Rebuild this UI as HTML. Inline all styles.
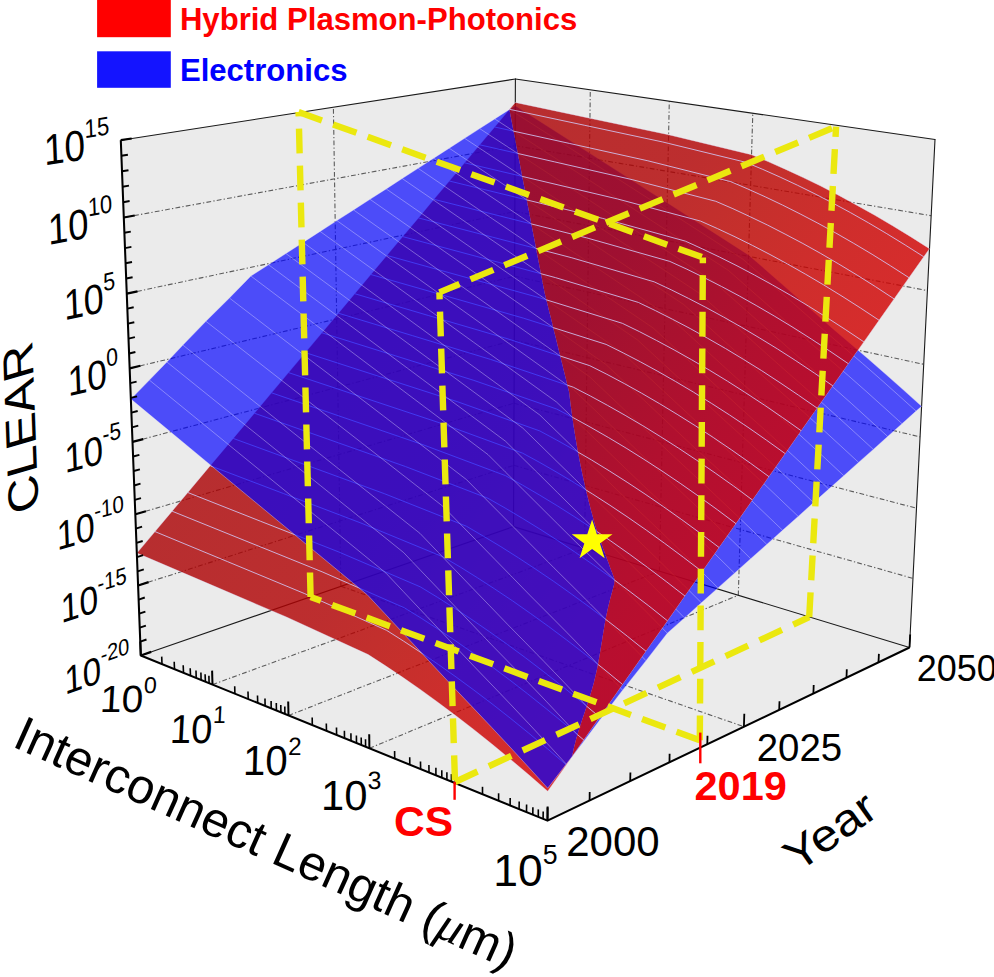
<!DOCTYPE html>
<html><head><meta charset="utf-8"><title>CLEAR</title>
<style>html,body{margin:0;padding:0;background:#fff}svg{display:block}</style></head>
<body>
<svg width="994" height="977" viewBox="0 0 994 977" font-family='"Liberation Sans", Arial, Helvetica, sans-serif'>
<rect width="994" height="977" fill="#fff"/>
<defs>
<clipPath id="rf"><polygon points="509.4,109.4 509.8,111.5 510.2,113.6 510.6,115.7 511.0,117.8 511.4,119.9 511.8,122.0 512.2,124.1 512.6,126.2 513.0,128.3 513.4,130.5 513.9,132.6 514.3,134.7 514.7,136.8 515.1,139.0 515.5,141.1 515.9,143.3 516.3,145.4 516.7,147.6 517.1,149.8 517.6,151.9 518.0,154.1 518.4,156.3 518.8,158.5 519.2,160.6 519.7,162.8 520.1,165.0 520.5,167.2 520.9,169.4 521.4,171.7 521.8,173.9 522.2,176.1 522.6,178.3 523.1,180.6 523.5,182.8 523.9,185.0 524.4,187.3 524.8,189.5 525.2,191.8 525.7,194.1 526.1,196.3 526.5,198.6 527.0,200.9 527.4,203.2 527.8,205.4 528.3,207.7 528.7,210.0 529.2,212.3 529.6,214.7 530.0,217.0 530.5,219.3 530.9,221.6 531.4,223.9 531.8,226.3 532.3,228.6 532.7,231.0 533.2,233.3 533.6,235.7 534.1,238.0 534.6,240.4 535.0,242.8 535.5,245.2 535.9,247.6 536.4,249.9 536.8,252.3 537.3,254.7 537.8,257.2 538.2,259.6 538.7,262.0 539.2,264.4 539.6,266.8 540.1,269.3 540.6,271.7 541.0,274.2 541.5,276.6 542.0,279.1 542.4,281.6 542.9,284.0 543.4,286.5 543.9,289.0 544.4,291.5 544.9,293.9 545.5,296.3 546.1,298.7 546.7,301.2 547.3,303.6 547.9,306.0 548.5,308.5 549.1,310.9 549.7,313.4 550.4,315.8 551.0,318.3 551.6,320.8 552.2,323.3 552.8,325.7 553.4,328.2 554.0,330.7 554.6,333.2 555.3,335.7 555.9,338.3 556.5,340.8 557.1,343.3 557.7,345.8 558.4,348.4 559.0,350.9 559.6,353.5 560.3,356.0 560.9,358.6 561.5,361.2 562.2,363.7 562.8,366.3 563.4,368.9 564.1,371.5 564.7,374.1 565.4,376.7 566.0,379.3 566.6,381.9 567.3,384.5 567.9,387.2 568.6,389.8 569.2,392.5 569.6,395.8 570.0,399.2 570.4,402.5 570.8,405.9 571.3,409.2 571.7,412.6 572.2,415.9 572.7,419.3 573.1,422.6 573.6,426.0 574.2,429.3 574.7,432.7 575.2,436.0 575.8,439.4 576.4,442.7 576.9,446.0 577.5,449.4 578.1,452.7 578.8,456.0 579.4,459.4 580.1,462.7 580.7,466.0 581.4,469.3 582.1,472.7 582.8,476.0 583.5,479.3 584.3,482.6 585.0,485.9 585.8,489.2 586.6,492.5 587.4,495.8 588.2,499.1 589.0,502.4 589.9,505.7 590.7,509.0 591.6,512.3 592.5,515.6 593.4,518.9 594.3,522.2 595.2,525.4 596.2,528.6 597.3,531.7 598.4,534.8 599.5,538.0 600.6,541.1 601.7,544.2 602.8,547.4 603.9,550.5 605.1,553.6 606.2,556.8 607.4,559.9 608.6,563.0 609.7,566.2 610.9,569.4 612.1,572.5 613.3,575.7 614.5,578.9 614.2,584.2 612.1,592.0 610.0,599.8 608.1,607.4 606.6,614.5 605.2,621.3 604.1,628.0 603.0,634.5 602.0,641.0 600.9,647.5 599.8,654.2 598.6,661.0 597.3,668.1 595.6,675.5 593.7,683.5 591.2,692.1 588.3,701.5 585.0,711.5 581.6,721.6 578.4,731.4 575.8,740.5 573.7,748.9 572.0,756.7 583.8,740.0 599.8,717.2 622.7,684.6 646.1,651.3 667.6,620.9 685.0,596.1 702.2,571.7 719.2,547.6 736.0,523.7 752.6,500.1 769.0,476.7 785.3,453.7 801.3,430.8 817.2,408.2 832.9,385.9 848.5,363.8 863.9,341.9 879.1,320.3 894.1,298.9 909.0,277.7 923.8,256.8 929.5,248.7 911.0,236.9 892.6,225.7 874.4,215.0 856.3,204.9 838.5,195.2 820.8,186.1 803.2,177.5 785.8,169.4 768.6,161.8 751.6,154.7 668.6,134.7 589.9,118.2 515.3,102.4"/></clipPath>
<linearGradient id="rg" gradientUnits="userSpaceOnUse" x1="357.2" y1="284" x2="699.7" y2="556.1"><stop offset="0" stop-color="#ab0204"/><stop offset="0.415" stop-color="#b20203"/><stop offset="0.597" stop-color="#bc0400"/><stop offset="0.779" stop-color="#c80200"/><stop offset="1" stop-color="#d20000"/></linearGradient>
</defs>
<g id="bg"><polygon points="140.8,655.5 120.8,140.2 515.4,79.0 513.5,526.6" fill="#ebebeb"/><polygon points="513.5,526.6 515.4,79.0 935.0,139.5 909.5,647.5" fill="#ebebeb"/><polygon points="140.8,655.5 513.5,526.6 909.5,647.5 547.5,820.6" fill="#ebebeb"/><g stroke="#5c5c5c" stroke-width="1.1" stroke-dasharray="4.8 2.2 1.3 2.2" fill="none"><line x1="138.1" y1="585.5" x2="513.8" y2="465.3" /><line x1="513.8" y1="465.3" x2="913.0" y2="578.4" /><line x1="135.4" y1="514.3" x2="514.0" y2="403.2" /><line x1="514.0" y1="403.2" x2="916.5" y2="508.2" /><line x1="132.5" y1="441.9" x2="514.3" y2="340.2" /><line x1="514.3" y1="340.2" x2="920.1" y2="436.9" /><line x1="129.7" y1="368.4" x2="514.6" y2="276.3" /><line x1="514.6" y1="276.3" x2="923.7" y2="364.3" /><line x1="126.8" y1="293.6" x2="514.8" y2="211.5" /><line x1="514.8" y1="211.5" x2="927.4" y2="290.6" /><line x1="123.8" y1="217.5" x2="515.1" y2="145.7" /><line x1="515.1" y1="145.7" x2="931.1" y2="215.7" /><line x1="340.9" y1="586.3" x2="333.4" y2="107.2" /><line x1="584.6" y1="548.3" x2="590.3" y2="89.8" /><line x1="212.5" y1="684.6" x2="584.6" y2="548.3" /><line x1="659.4" y1="571.2" x2="669.3" y2="101.2" /><line x1="288.5" y1="715.5" x2="659.4" y2="571.2" /><line x1="738.3" y1="595.2" x2="752.8" y2="113.2" /><line x1="369.4" y1="748.3" x2="738.3" y2="595.2" /><line x1="340.9" y1="586.3" x2="743.9" y2="726.7" /></g><g stroke="#1a1a1a" stroke-width="1.1" fill="none" stroke-linecap="round"><line x1="120.8" y1="140.2" x2="515.4" y2="79.0" /><line x1="515.4" y1="79.0" x2="935.0" y2="139.5" /><line x1="513.5" y1="526.6" x2="515.4" y2="79.0" /><line x1="909.5" y1="647.5" x2="935.0" y2="139.5" /><line x1="140.8" y1="655.5" x2="513.5" y2="526.6" /><line x1="513.5" y1="526.6" x2="909.5" y2="647.5" /></g></g>
<g id="redS"><g><polygon points="136.9,553.1 155.0,531.6 172.1,511.2 187.8,492.5 210.2,465.7 233.2,438.4 254.4,413.2 271.5,392.8 288.5,372.6 305.3,352.6 321.9,332.8 338.4,313.2 354.7,293.7 370.8,274.5 386.8,255.4 402.7,236.6 418.4,217.9 433.9,199.3 449.3,181.0 464.6,162.8 479.7,144.8 494.7,127.0 509.5,109.3 515.3,102.4 589.9,118.2 668.6,134.7 751.6,154.7 768.6,161.8 785.8,169.4 803.2,177.5 820.8,186.1 838.5,195.2 856.3,204.9 874.4,215.0 892.6,225.7 911.0,236.9 929.5,248.7 923.8,256.8 909.0,277.7 894.1,298.9 879.1,320.3 863.9,341.9 848.5,363.8 832.9,385.9 817.2,408.2 801.3,430.8 785.3,453.7 769.0,476.7 752.6,500.1 736.0,523.7 719.2,547.6 702.2,571.7 685.0,596.1 667.6,620.9 646.1,651.3 622.7,684.6 599.8,717.2 583.8,740.0 566.3,764.9 547.7,791.2 528.8,774.8 510.1,759.0 491.6,743.8 473.4,729.2 455.3,715.3 437.5,702.0 419.9,689.2 402.4,677.1 385.2,665.6 368.2,654.6 286.4,617.0 209.4,584.1" fill="url(#rg)" fill-opacity="0.81" stroke="#e4e0ff" stroke-opacity="0.55" stroke-width="0.7"/><path d="M155.0,531.6 L227.7,561.7 L304.8,593.7 L386.7,630.4 L403.7,641.2 L421.0,652.6 L438.4,664.5 L456.1,677.0 L473.9,690.1 L492.0,703.8 L510.2,718.1 L528.7,733.1 L547.4,748.7 L566.3,764.9 M172.1,511.2 L244.9,540.6 L322.1,571.8 L404.2,607.7 L421.2,618.2 L438.5,629.4 L455.9,641.1 L473.6,653.4 L491.4,666.3 L509.5,679.8 L527.7,693.9 L546.2,708.7 L564.9,724.0 L583.8,740.0 M187.8,492.5 L260.7,521.3 L338.1,551.7 L420.2,586.8 L437.3,597.2 L454.5,608.2 L472.0,619.7 L489.6,631.8 L507.5,644.5 L525.5,657.8 L543.8,671.8 L562.3,686.3 L580.9,701.4 L599.8,717.2 M210.2,465.7 L283.4,493.5 L360.9,523.0 L443.1,556.9 L460.2,567.0 L477.5,577.8 L494.9,589.1 L512.6,600.9 L530.4,613.4 L548.5,626.4 L566.7,640.0 L585.2,654.3 L603.9,669.1 L622.7,684.6 M233.2,438.4 L306.5,465.2 L384.2,493.6 L466.6,526.3 L483.6,536.3 L500.9,546.7 L518.4,557.8 L536.0,569.4 L553.9,581.5 L571.9,594.3 L590.2,607.6 L608.6,621.6 L627.3,636.2 L646.1,651.3 M254.4,413.2 L327.8,439.1 L405.6,466.6 L488.0,498.3 L505.1,508.0 L522.4,518.3 L539.9,529.1 L557.5,540.4 L575.4,552.4 L593.4,564.9 L611.7,578.0 L630.1,591.7 L648.8,605.9 L667.6,620.9 M271.5,392.8 L345.0,418.0 L422.9,444.7 L505.4,475.6 L522.5,485.1 L539.8,495.2 L557.3,505.8 L574.9,517.0 L592.8,528.7 L610.8,541.0 L629.1,553.9 L647.5,567.4 L666.2,581.5 L685.0,596.1 M288.5,372.6 L362.1,397.1 L440.1,423.0 L522.7,453.2 L539.8,462.5 L557.0,472.4 L574.5,482.8 L592.2,493.8 L610.0,505.3 L628.1,517.4 L646.3,530.1 L664.7,543.4 L683.4,557.3 L702.2,571.7 M305.3,352.6 L379.0,376.4 L457.1,401.6 L539.7,430.9 L556.8,440.1 L574.1,449.8 L591.6,460.0 L609.2,470.8 L627.1,482.2 L645.1,494.1 L663.3,506.6 L681.8,519.7 L700.4,533.3 L719.2,547.6 M321.9,332.8 L395.7,355.9 L473.9,380.4 L556.6,409.0 L573.7,417.9 L591.0,427.5 L608.4,437.5 L626.1,448.1 L643.9,459.3 L662.0,471.0 L680.2,483.3 L698.6,496.2 L717.2,509.6 L736.0,523.7 M338.4,313.2 L412.3,335.6 L490.5,359.4 L573.3,387.2 L590.4,396.0 L607.6,405.4 L625.1,415.3 L642.8,425.7 L660.6,436.7 L678.6,448.2 L696.8,460.3 L715.2,473.0 L733.8,486.2 L752.6,500.1 M354.7,293.7 L428.7,315.6 L507.0,338.6 L589.8,365.7 L606.9,374.3 L624.2,383.5 L641.6,393.2 L659.3,403.5 L677.1,414.3 L695.1,425.6 L713.3,437.5 L731.7,450.0 L750.3,463.1 L769.0,476.7 M370.8,274.5 L444.9,295.7 L523.3,318.1 L606.1,344.4 L623.2,352.9 L640.5,361.9 L657.9,371.4 L675.6,381.5 L693.4,392.1 L711.4,403.3 L729.6,415.0 L748.0,427.3 L766.5,440.2 L785.3,453.7 M386.8,255.4 L461.0,276.0 L539.4,297.7 L622.3,323.3 L639.4,331.6 L656.6,340.5 L674.1,349.9 L691.7,359.8 L709.5,370.2 L727.5,381.2 L745.7,392.8 L764.1,404.9 L782.6,417.6 L801.3,430.8 M402.7,236.6 L476.9,256.5 L555.4,277.6 L638.3,302.4 L655.4,310.6 L672.6,319.3 L690.1,328.5 L707.7,338.3 L725.5,348.5 L743.5,359.4 L761.7,370.7 L780.0,382.7 L798.5,395.2 L817.2,408.2 M418.4,217.9 L492.7,237.2 L571.2,257.6 L654.1,281.8 L671.2,289.8 L688.5,298.4 L705.9,307.4 L723.5,317.0 L741.3,327.1 L759.3,337.8 L777.4,348.9 L795.8,360.7 L814.3,373.0 L832.9,385.9 M433.9,199.3 L508.3,218.1 L586.8,237.9 L669.8,261.4 L686.9,269.2 L704.1,277.6 L721.6,286.5 L739.2,295.9 L756.9,305.9 L774.9,316.4 L793.0,327.4 L811.3,339.0 L829.8,351.1 L848.5,363.8 M449.3,181.0 L523.8,199.2 L602.3,218.3 L685.3,241.1 L702.4,248.9 L719.6,257.1 L737.0,265.8 L754.6,275.1 L772.4,284.9 L790.4,295.2 L808.5,306.1 L826.8,317.5 L845.2,329.4 L863.9,341.9 M464.6,162.8 L539.1,180.4 L617.7,199.0 L700.6,221.1 L717.7,228.7 L735.0,236.8 L752.4,245.4 L770.0,254.5 L787.7,264.1 L805.7,274.3 L823.8,285.0 L842.0,296.2 L860.5,308.0 L879.1,320.3 M479.7,144.8 L554.3,161.8 L632.9,179.8 L715.8,201.3 L732.9,208.7 L750.1,216.7 L767.6,225.1 L785.1,234.1 L802.9,243.5 L820.8,253.5 L838.9,264.1 L857.1,275.1 L875.5,286.7 L894.1,298.9 M494.7,127.0 L569.3,143.4 L647.9,160.8 L730.9,181.7 L747.9,189.0 L765.2,196.8 L782.6,205.1 L800.1,213.9 L817.9,223.2 L835.8,233.0 L853.8,243.4 L872.1,254.3 L890.5,265.8 L909.0,277.7 M509.5,109.3 L584.2,125.2 L662.8,142.0 L745.8,162.3 L762.8,169.4 L780.1,177.1 L797.4,185.2 L815.0,193.9 L832.7,203.0 L850.6,212.7 L868.6,222.9 L886.8,233.7 L905.2,245.0 L923.8,256.8" stroke="#d2d0ff" stroke-opacity="0.8" stroke-width="1.0" fill="none" stroke-linejoin="round"/></g></g>
<g id="blueS"><g><polygon points="130.9,399.1 149.4,380.1 166.9,362.0 182.9,345.1 205.9,321.3 229.4,298.0 250.9,276.0 268.5,264.7 285.9,253.5 303.1,242.4 320.1,231.4 336.9,220.6 353.5,209.9 370.0,199.3 386.2,188.9 402.2,178.5 418.1,168.3 433.7,158.2 449.2,148.2 464.6,138.3 479.7,128.6 494.7,118.9 509.5,109.4 515.3,105.7 589.5,153.1 667.2,202.8 748.5,254.9 765.2,269.4 781.9,284.1 798.9,298.9 815.9,313.8 833.1,328.9 850.5,343.7 868.1,358.8 885.8,374.3 903.6,390.1 921.6,406.3 916.1,411.1 902.0,423.7 887.7,436.5 873.3,449.4 858.6,462.4 843.8,475.7 828.8,489.1 813.6,502.6 798.2,516.4 782.6,530.3 766.8,544.4 750.7,558.7 734.5,573.2 718.0,587.9 701.4,602.8 684.5,617.9 667.3,633.2 646.0,660.7 622.6,690.2 599.8,720.1 583.7,741.4 566.3,764.1 547.7,788.2 528.9,767.5 510.2,747.2 491.7,727.4 473.4,708.1 455.3,689.1 437.3,669.9 419.6,650.8 402.0,632.0 384.7,613.4 367.4,594.9 284.4,526.2 205.6,461.0" fill="#0000ff" fill-opacity="0.68" stroke="#e4e0ff" stroke-opacity="0.55" stroke-width="0.7"/><path d="M149.4,380.1 L224.2,441.1 L303.0,505.4 L386.1,573.2 L403.3,591.5 L420.7,609.9 L438.3,628.5 L456.0,647.3 L473.9,666.2 L492.0,685.0 L510.3,704.1 L528.8,723.7 L547.4,743.7 L566.3,764.1 M166.9,362.0 L241.8,422.3 L320.6,485.7 L403.7,552.6 L420.9,570.7 L438.3,588.9 L455.8,607.3 L473.5,625.8 L491.4,644.6 L509.5,663.1 L527.8,682.0 L546.3,701.4 L564.9,721.2 L583.7,741.4 M182.9,345.1 L257.9,404.6 L336.7,467.3 L419.9,533.3 L437.1,551.2 L454.4,569.2 L471.9,587.4 L489.7,605.8 L507.5,624.3 L525.6,642.7 L543.9,661.4 L562.3,680.5 L580.9,700.1 L599.8,720.1 M205.9,321.3 L280.9,379.8 L359.8,441.4 L442.9,506.3 L460.1,523.9 L477.5,541.6 L495.0,559.5 L512.7,577.6 L530.5,595.9 L548.6,614.0 L566.8,632.4 L585.2,651.2 L603.9,670.5 L622.6,690.2 M229.4,298.0 L304.4,355.5 L383.4,415.9 L466.5,479.6 L483.7,497.0 L501.0,514.4 L518.5,532.1 L536.2,549.9 L554.0,567.9 L572.0,585.7 L590.2,603.8 L608.6,622.3 L627.2,641.3 L646.0,660.7 M250.9,276.0 L326.0,332.6 L405.0,392.1 L488.1,454.7 L505.2,471.8 L522.5,489.0 L540.0,506.4 L557.7,524.0 L575.5,541.7 L593.5,559.2 L611.7,577.1 L630.1,595.4 L648.6,614.1 L667.3,633.2 M268.5,264.7 L343.6,320.6 L422.5,379.4 L505.6,441.3 L522.7,458.2 L540.0,475.2 L557.4,492.5 L575.0,509.9 L592.8,527.4 L610.8,544.7 L628.9,562.4 L647.3,580.5 L665.8,599.0 L684.5,617.9 M285.9,253.5 L361.0,308.8 L439.8,366.9 L522.8,428.1 L539.9,444.8 L557.1,461.7 L574.6,478.7 L592.2,495.9 L609.9,513.3 L627.8,530.4 L646.0,547.9 L664.3,565.8 L682.7,584.1 L701.4,602.8 M303.1,242.4 L378.2,297.1 L456.9,354.6 L539.8,415.0 L556.9,431.6 L574.1,448.3 L591.5,465.1 L609.1,482.2 L626.8,499.4 L644.7,516.3 L662.8,533.6 L681.0,551.3 L699.4,569.4 L718.0,587.9 M320.1,231.4 L395.1,285.5 L473.8,342.4 L556.6,402.1 L573.7,418.5 L590.9,435.0 L608.2,451.7 L625.7,468.6 L643.4,485.6 L661.3,502.4 L679.3,519.5 L697.6,537.0 L715.9,554.9 L734.5,573.2 M336.9,220.6 L411.9,274.1 L490.5,330.3 L573.2,389.4 L590.2,405.6 L607.4,422.0 L624.7,438.5 L642.2,455.2 L659.9,472.0 L677.7,488.6 L695.7,505.6 L713.9,522.9 L732.2,540.6 L750.7,558.7 M353.5,209.9 L428.4,262.8 L507.0,318.4 L589.6,376.8 L606.6,392.9 L623.7,409.1 L641.0,425.4 L658.5,442.0 L676.1,458.6 L693.9,475.1 L711.9,491.8 L730.0,509.0 L748.3,526.5 L766.8,544.4 M370.0,199.3 L444.8,251.7 L523.3,306.6 L605.8,364.4 L622.8,380.3 L639.9,396.3 L657.1,412.5 L674.5,428.9 L692.1,445.4 L709.9,461.7 L727.8,478.2 L745.9,495.2 L764.1,512.6 L782.6,530.3 M386.2,188.9 L461.0,240.7 L539.4,295.0 L621.8,352.1 L638.7,367.9 L655.8,383.8 L673.0,399.8 L690.4,416.0 L707.9,432.3 L725.6,448.4 L743.5,464.8 L761.6,481.6 L779.8,498.9 L798.2,516.4 M402.2,178.5 L476.9,229.8 L555.3,283.6 L637.6,340.0 L654.5,355.6 L671.5,371.3 L688.7,387.2 L706.0,403.3 L723.5,419.4 L741.2,435.4 L759.1,451.6 L777.1,468.2 L795.3,485.3 L813.6,502.6 M418.1,168.3 L492.7,219.0 L571.0,272.2 L653.2,328.0 L670.0,343.5 L687.0,359.1 L704.2,374.8 L721.5,390.7 L739.0,406.7 L756.6,422.5 L774.4,438.5 L792.4,455.0 L810.5,471.9 L828.8,489.1 M433.7,158.2 L508.4,208.4 L586.5,261.0 L668.6,316.2 L685.4,331.5 L702.4,347.0 L719.5,362.5 L736.8,378.3 L754.2,394.1 L771.8,409.7 L789.6,425.6 L807.5,442.0 L825.6,458.7 L843.8,475.7 M449.2,148.2 L523.8,197.9 L601.9,249.9 L683.8,304.6 L700.6,319.7 L717.5,335.0 L734.6,350.4 L751.8,366.0 L769.2,381.7 L786.8,397.2 L804.5,412.9 L822.4,429.1 L840.4,445.6 L858.6,462.4 M464.6,138.3 L539.0,187.5 L617.1,239.0 L698.9,293.0 L715.6,308.0 L732.5,323.2 L749.5,338.4 L766.7,353.9 L784.1,369.4 L801.6,384.7 L819.3,400.3 L837.1,416.3 L855.1,432.7 L873.3,449.4 M479.7,128.6 L554.1,177.2 L632.0,228.2 L713.7,281.6 L730.4,296.5 L747.3,311.5 L764.3,326.6 L781.5,341.9 L798.8,357.3 L816.3,372.5 L833.9,387.9 L851.7,403.7 L869.6,420.0 L887.7,436.5 M494.7,118.9 L569.0,167.1 L646.8,217.5 L728.4,270.4 L745.1,285.1 L761.9,299.9 L778.9,314.9 L796.0,330.1 L813.3,345.3 L830.7,360.3 L848.3,375.6 L866.1,391.3 L884.0,407.4 L902.0,423.7 M509.5,109.4 L583.8,157.0 L661.5,206.9 L742.9,259.2 L759.6,273.8 L776.3,288.5 L793.3,303.4 L810.4,318.4 L827.6,333.5 L845.0,348.4 L862.6,363.5 L880.3,379.0 L898.1,394.9 L916.1,411.1" stroke="#e0dcff" stroke-opacity="0.4" stroke-width="1.0" fill="none" stroke-linejoin="round"/></g></g>
<g clip-path="url(#rf)"><use href="#bg"/><use href="#blueS"/><use href="#redS"/></g>
<g stroke="#000" stroke-width="2.05" stroke-linecap="butt" stroke-linejoin="round" fill="none">
<polyline points="120.8,140.2 140.8,655.5 547.5,820.6 909.5,647.5"/>
</g>
<g stroke="#000" fill="none">
<line x1="140.8" y1="655.5" x2="151.2" y2="651.9" stroke-width="2.2"/>
<line x1="140.3" y1="641.6" x2="146.5" y2="639.5" stroke-width="1.9"/>
<line x1="139.8" y1="627.6" x2="145.9" y2="625.6" stroke-width="1.9"/>
<line x1="139.2" y1="613.6" x2="145.4" y2="611.6" stroke-width="1.9"/>
<line x1="138.7" y1="599.6" x2="144.8" y2="597.5" stroke-width="1.9"/>
<line x1="138.1" y1="585.5" x2="148.6" y2="582.1" stroke-width="2.2"/>
<line x1="137.6" y1="571.3" x2="143.8" y2="569.4" stroke-width="1.9"/>
<line x1="137.0" y1="557.1" x2="143.2" y2="555.2" stroke-width="1.9"/>
<line x1="136.5" y1="542.9" x2="142.7" y2="541.0" stroke-width="1.9"/>
<line x1="135.9" y1="528.6" x2="142.1" y2="526.7" stroke-width="1.9"/>
<line x1="135.4" y1="514.3" x2="145.9" y2="511.2" stroke-width="2.2"/>
<line x1="134.8" y1="499.9" x2="141.0" y2="498.1" stroke-width="1.9"/>
<line x1="134.2" y1="485.5" x2="140.5" y2="483.7" stroke-width="1.9"/>
<line x1="133.7" y1="471.0" x2="139.9" y2="469.3" stroke-width="1.9"/>
<line x1="133.1" y1="456.5" x2="139.4" y2="454.8" stroke-width="1.9"/>
<line x1="132.5" y1="441.9" x2="143.2" y2="439.1" stroke-width="2.2"/>
<line x1="132.0" y1="427.3" x2="138.3" y2="425.7" stroke-width="1.9"/>
<line x1="131.4" y1="412.6" x2="137.7" y2="411.0" stroke-width="1.9"/>
<line x1="130.8" y1="397.9" x2="137.1" y2="396.4" stroke-width="1.9"/>
<line x1="130.3" y1="383.2" x2="136.6" y2="381.6" stroke-width="1.9"/>
<line x1="129.7" y1="368.4" x2="140.4" y2="365.8" stroke-width="2.2"/>
<line x1="129.1" y1="353.5" x2="135.4" y2="352.0" stroke-width="1.9"/>
<line x1="128.5" y1="338.6" x2="134.9" y2="337.1" stroke-width="1.9"/>
<line x1="128.0" y1="323.6" x2="134.3" y2="322.2" stroke-width="1.9"/>
<line x1="127.4" y1="308.6" x2="133.7" y2="307.3" stroke-width="1.9"/>
<line x1="126.8" y1="293.6" x2="137.5" y2="291.3" stroke-width="2.2"/>
<line x1="126.2" y1="278.5" x2="132.6" y2="277.2" stroke-width="1.9"/>
<line x1="125.6" y1="263.3" x2="132.0" y2="262.0" stroke-width="1.9"/>
<line x1="125.0" y1="248.1" x2="131.4" y2="246.9" stroke-width="1.9"/>
<line x1="124.4" y1="232.8" x2="130.8" y2="231.6" stroke-width="1.9"/>
<line x1="123.8" y1="217.5" x2="134.7" y2="215.5" stroke-width="2.2"/>
<line x1="123.2" y1="202.2" x2="129.6" y2="201.0" stroke-width="1.9"/>
<line x1="122.6" y1="186.7" x2="129.0" y2="185.6" stroke-width="1.9"/>
<line x1="122.0" y1="171.3" x2="128.5" y2="170.2" stroke-width="1.9"/>
<line x1="121.4" y1="155.7" x2="127.9" y2="154.7" stroke-width="1.9"/>
<line x1="120.8" y1="140.2" x2="131.7" y2="138.5" stroke-width="2.2"/>
<line x1="140.8" y1="655.5" x2="140.3" y2="641.5" stroke-width="2.0"/>
<line x1="162.0" y1="664.1" x2="161.7" y2="656.6" stroke-width="1.6"/>
<line x1="174.5" y1="669.2" x2="174.2" y2="661.7" stroke-width="1.6"/>
<line x1="183.5" y1="672.8" x2="183.2" y2="665.3" stroke-width="1.6"/>
<line x1="190.5" y1="675.7" x2="190.2" y2="668.2" stroke-width="1.6"/>
<line x1="196.2" y1="678.0" x2="196.0" y2="670.5" stroke-width="1.6"/>
<line x1="201.1" y1="680.0" x2="200.9" y2="672.5" stroke-width="1.6"/>
<line x1="205.4" y1="681.7" x2="205.1" y2="674.2" stroke-width="1.6"/>
<line x1="209.1" y1="683.2" x2="208.9" y2="675.7" stroke-width="1.6"/>
<line x1="212.5" y1="684.6" x2="212.1" y2="670.6" stroke-width="2.0"/>
<line x1="234.9" y1="693.7" x2="234.7" y2="686.2" stroke-width="1.6"/>
<line x1="248.2" y1="699.1" x2="248.0" y2="691.6" stroke-width="1.6"/>
<line x1="257.7" y1="703.0" x2="257.5" y2="695.5" stroke-width="1.6"/>
<line x1="265.1" y1="706.0" x2="265.0" y2="698.5" stroke-width="1.6"/>
<line x1="271.2" y1="708.5" x2="271.1" y2="701.0" stroke-width="1.6"/>
<line x1="276.4" y1="710.6" x2="276.3" y2="703.1" stroke-width="1.6"/>
<line x1="280.9" y1="712.4" x2="280.8" y2="704.9" stroke-width="1.6"/>
<line x1="284.9" y1="714.0" x2="284.8" y2="706.5" stroke-width="1.6"/>
<line x1="288.5" y1="715.5" x2="288.2" y2="701.5" stroke-width="2.0"/>
<line x1="312.3" y1="725.1" x2="312.2" y2="717.6" stroke-width="1.6"/>
<line x1="326.5" y1="730.9" x2="326.3" y2="723.4" stroke-width="1.6"/>
<line x1="336.6" y1="735.0" x2="336.5" y2="727.5" stroke-width="1.6"/>
<line x1="344.5" y1="738.2" x2="344.4" y2="730.7" stroke-width="1.6"/>
<line x1="351.0" y1="740.8" x2="350.9" y2="733.3" stroke-width="1.6"/>
<line x1="356.5" y1="743.1" x2="356.4" y2="735.6" stroke-width="1.6"/>
<line x1="361.3" y1="745.0" x2="361.2" y2="737.5" stroke-width="1.6"/>
<line x1="365.6" y1="746.8" x2="365.5" y2="739.3" stroke-width="1.6"/>
<line x1="369.4" y1="748.3" x2="369.2" y2="734.3" stroke-width="2.0"/>
<line x1="394.7" y1="758.6" x2="394.6" y2="751.1" stroke-width="1.6"/>
<line x1="409.8" y1="764.7" x2="409.7" y2="757.2" stroke-width="1.6"/>
<line x1="420.6" y1="769.1" x2="420.5" y2="761.6" stroke-width="1.6"/>
<line x1="429.0" y1="772.5" x2="428.9" y2="765.0" stroke-width="1.6"/>
<line x1="435.9" y1="775.3" x2="435.9" y2="767.8" stroke-width="1.6"/>
<line x1="441.8" y1="777.7" x2="441.8" y2="770.2" stroke-width="1.6"/>
<line x1="446.9" y1="779.8" x2="446.9" y2="772.3" stroke-width="1.6"/>
<line x1="451.4" y1="781.6" x2="451.4" y2="774.1" stroke-width="1.6"/>
<line x1="455.5" y1="783.3" x2="455.5" y2="769.3" stroke-width="2.0"/>
<line x1="482.5" y1="794.3" x2="482.5" y2="786.8" stroke-width="1.6"/>
<line x1="498.6" y1="800.8" x2="498.6" y2="793.3" stroke-width="1.6"/>
<line x1="510.1" y1="805.5" x2="510.2" y2="798.0" stroke-width="1.6"/>
<line x1="519.1" y1="809.1" x2="519.2" y2="801.6" stroke-width="1.6"/>
<line x1="526.5" y1="812.1" x2="526.6" y2="804.6" stroke-width="1.6"/>
<line x1="532.8" y1="814.7" x2="532.9" y2="807.2" stroke-width="1.6"/>
<line x1="538.3" y1="816.9" x2="538.3" y2="809.4" stroke-width="1.6"/>
<line x1="543.1" y1="818.9" x2="543.2" y2="811.4" stroke-width="1.6"/>
<line x1="547.5" y1="820.6" x2="547.6" y2="806.6" stroke-width="2.0"/>
<line x1="547.5" y1="820.6" x2="547.6" y2="807.6" stroke-width="1.8"/>
<line x1="589.6" y1="800.5" x2="589.7" y2="792.0" stroke-width="1.8"/>
<line x1="630.2" y1="781.1" x2="630.4" y2="772.6" stroke-width="1.8"/>
<line x1="669.5" y1="762.3" x2="669.6" y2="753.8" stroke-width="1.8"/>
<line x1="707.3" y1="744.2" x2="707.5" y2="735.7" stroke-width="1.8"/>
<line x1="743.9" y1="726.7" x2="744.3" y2="713.7" stroke-width="1.8"/>
<line x1="779.2" y1="709.8" x2="779.5" y2="701.3" stroke-width="1.8"/>
<line x1="813.4" y1="693.5" x2="813.7" y2="685.0" stroke-width="1.8"/>
<line x1="846.5" y1="677.7" x2="846.8" y2="669.2" stroke-width="1.8"/>
<line x1="878.5" y1="662.4" x2="878.9" y2="653.9" stroke-width="1.8"/>
<line x1="909.5" y1="647.5" x2="910.2" y2="634.5" stroke-width="1.8"/>
</g>
<g stroke="#ebe80f" stroke-width="6.4" fill="none" stroke-dasharray="24.8 11.9">
<line x1="699.8" y1="740.3" x2="702.9" y2="257.5" stroke-dasharray="24.8 11.9" stroke-dashoffset="0.0"/>
<line x1="298.6" y1="112" x2="702.9" y2="257.5" stroke-dasharray="24.8 11.9" stroke-dashoffset="0.0"/>
<line x1="298.6" y1="112" x2="310.6" y2="597" stroke-dasharray="24.8 12.2" stroke-dashoffset="20.4"/>
<line x1="699.8" y1="740.3" x2="310.6" y2="597" stroke-dasharray="24.8 11.9" stroke-dashoffset="0.0"/>
<line x1="439.4" y1="292.4" x2="455" y2="782" stroke-dasharray="24.8 12.2" stroke-dashoffset="17.8"/>
<line x1="439.4" y1="292.4" x2="836.1" y2="126.6" stroke-dasharray="24.8 11.9" stroke-dashoffset="3.0"/>
<line x1="836.1" y1="126.6" x2="809.2" y2="617.2" stroke-dasharray="24.8 12.2" stroke-dashoffset="14.5"/>
<line x1="809.2" y1="617.2" x2="455" y2="782" stroke-dasharray="24.8 12.5" stroke-dashoffset="7.2"/>
</g>
<polygon points="592.1,519.5 596.9,534.3 612.5,534.3 599.9,543.4 604.7,558.2 592.1,549.1 579.5,558.2 584.3,543.4 571.7,534.3 587.3,534.3" fill="#ffff00"/>
<line x1="454.6" y1="781.8" x2="454.6" y2="799.8" stroke="#ff0000" stroke-width="2.4"/>
<line x1="700.3" y1="732.6" x2="700.3" y2="763.3" stroke="#ff0000" stroke-width="2.4"/>
<rect x="97.1" y="0" width="73.7" height="37.2" fill="#ff0000"/>
<rect x="97.1" y="51.3" width="73.7" height="36.5" fill="#1414ff"/>
<text x="179.9" y="30.3" font-size="31.1" font-weight="bold" fill="#ff0000">Hybrid Plasmon-Photonics</text>
<text x="179.9" y="81" font-size="31.1" font-weight="bold" fill="#0000ff">Electronics</text>
<text text-anchor="end" transform="matrix(1.0000 -0.1551 0.0453 1.1661 110.33 155.41)" font-size="37.0">10<tspan font-size="22.2" dy="-18.1" dx="0.0">15</tspan></text>
<text text-anchor="end" transform="matrix(1.0000 -0.1836 0.0453 1.1661 113.34 232.99)" font-size="36.4">10<tspan font-size="21.9" dy="-17.9" dx="0.0">10</tspan></text>
<text text-anchor="end" transform="matrix(1.0000 -0.2116 0.0453 1.1661 116.29 309.26)" font-size="35.9">10<tspan font-size="21.5" dy="-17.6" dx="0.0">5</tspan></text>
<text text-anchor="end" transform="matrix(1.0000 -0.2392 0.0453 1.1661 119.19 384.28)" font-size="35.3">10<tspan font-size="21.2" dy="-17.3" dx="0.0">0</tspan></text>
<text text-anchor="end" transform="matrix(1.0000 -0.2665 0.0453 1.1661 122.05 458.05)" font-size="34.7">10<tspan font-size="20.8" dy="-17.0" dx="0.0">-5</tspan></text>
<text text-anchor="end" transform="matrix(1.0000 -0.2933 0.0453 1.1661 124.86 530.62)" font-size="34.1">10<tspan font-size="20.5" dy="-16.7" dx="0.0">-10</tspan></text>
<text text-anchor="end" transform="matrix(1.0000 -0.3198 0.0453 1.1661 127.62 602.02)" font-size="33.6">10<tspan font-size="20.1" dy="-16.4" dx="0.0">-15</tspan></text>
<text text-anchor="end" transform="matrix(1.0000 -0.3458 0.0453 1.1661 130.34 672.26)" font-size="33.0">10<tspan font-size="19.8" dy="-16.2" dx="0.0">-20</tspan></text>
<text transform="matrix(0.9688 0 -0.0522 0.9500 99.39 711.7)" font-size="40">10<tspan font-size="24.0" dy="-19.6" dx="0.0">0</tspan></text>
<text transform="matrix(0.9525 0 -0.0505 1.0100 169.44 742.5)" font-size="40">10<tspan font-size="24.0" dy="-19.6" dx="0.0">1</tspan></text>
<text transform="matrix(1.0050 0 -0.0263 1.0500 242.69 775.3)" font-size="40">10<tspan font-size="24.0" dy="-19.6" dx="0.0">2</tspan></text>
<text transform="matrix(1.0375 0 -0.0105 1.0525 321.09 809.8)" font-size="40">10<tspan font-size="24.0" dy="-19.6" dx="0.0">3</tspan></text>
<text transform="matrix(1.1125 0 -0.0000 1.1150 493.26 885.9)" font-size="40">10<tspan font-size="24.0" dy="-19.6" dx="0.0">5</tspan></text>
<text x="566.2" y="856" font-size="42">2000</text>
<text x="756.7" y="761.1" font-size="38.4">2025</text>
<text x="916.7" y="681.4" font-size="36">2050</text>
<text x="694.5" y="800" font-size="41.5" font-weight="bold" fill="#ff0000">2019</text>
<text x="394.1" y="836.4" font-size="42.5" font-weight="bold" fill="#ff0000">CS</text>
<text transform="translate(797.4 873.2) rotate(-35.4) scale(1.145 1.02)" font-size="44">Year</text>
<text transform="translate(11 746) rotate(24.2)" font-size="49">Interconnect Length (<tspan font-family='"Liberation Serif", "DejaVu Serif", serif' font-style="italic">μ</tspan>m)</text>
<text transform="matrix(-0.0449 -1.19 1 -0.29 38.5 508.5)" font-size="42.5">CLEAR</text>
</svg>
</body></html>
